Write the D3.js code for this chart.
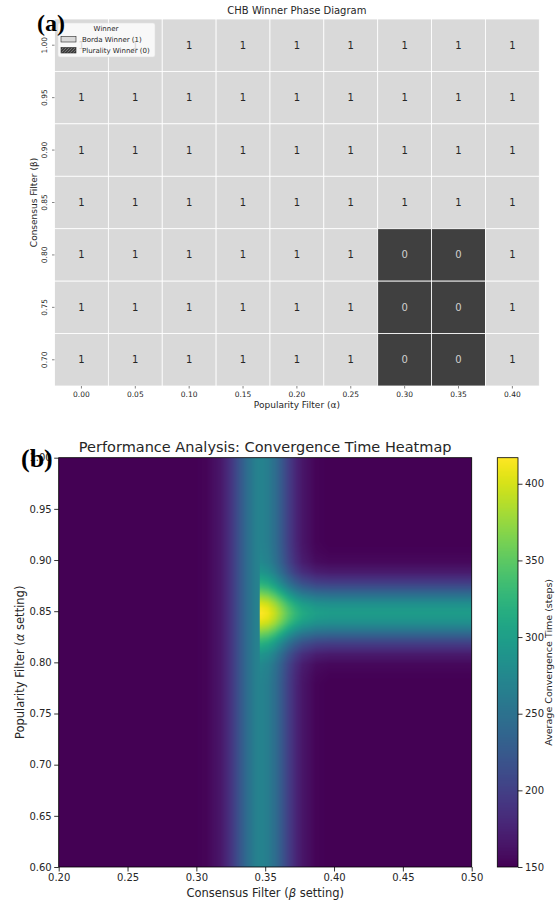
<!DOCTYPE html>
<meta charset="utf-8">
<head>
<style>
body{margin:0;background:#fff;}
svg text{font-family:"DejaVu Sans",sans-serif;fill:#262626;}
.panel-tag{font-family:"Liberation Serif",serif;font-weight:bold;fill:#000;}
</style>
<script src="https://cdnjs.cloudflare.com/ajax/libs/d3/7.8.5/d3.min.js"></script>
</head>
<body>
<div id="vis"></div>
<script>
// ---- (a) winner phase diagram ----
var popAlphas = ['0.00','0.05','0.10','0.15','0.20','0.25','0.30','0.35','0.40']
var consBetas = ['1.00','0.95','0.90','0.85','0.80','0.75','0.70']
var winner = [
	[1,1,1,1,1,1,1,1,1],
	[1,1,1,1,1,1,1,1,1],
	[1,1,1,1,1,1,1,1,1],
	[1,1,1,1,1,1,1,1,1],
	[1,1,1,1,1,1,0,0,1],
	[1,1,1,1,1,1,0,0,1],
	[1,1,1,1,1,1,0,0,1]]
var legendItems = ['Borda Winner (1)', 'Plurality Winner (0)']

// ---- (b) convergence time heatmap ----
var betaTicks = [0.20,0.25,0.30,0.35,0.40,0.45,0.50]
var alphaTicks = [0.60,0.65,0.70,0.75,0.80,0.85,0.90,0.95,1.00]
var cbTicks = [150,200,250,300,350,400]
var baseSteps = 150
var maxSteps = 417
// extra steps along consensus filter (vertical ridge)
var ridgeBeta  = [0.20,0.297,0.307,0.317,0.322,0.327,0.332,0.337,0.342,0.347,0.352,0.357,0.362,0.367,0.372,0.377,0.387,0.397,0.50]
var ridgeExtra = [0,   0,    3,    16,   30,   49,   73,   96,   113,  120,  113,  96,   73,   49,   30,   16,   3,    0,    0]
// extra steps along popularity filter (horizontal ridge, only from beta >= ridgeStart)
var ridgeAlpha  = [0.60,0.778,0.788,0.798,0.808,0.818,0.823,0.828,0.833,0.838,0.843,0.848,0.853,0.858,0.863,0.868,0.873,0.878,0.888,0.898,0.908,0.918,1.00]
var ridgeExtra2 = [0,   0,    2,    6,    20,   48,   67,   89,   111,  130,  142,  147,  142,  130,  111,  89,   67,   48,   20,   6,    2,    0,    0]
var ridgeStart = 0.346

var svg = d3.select('#vis').append('svg')
	.attr('width', 560)
	.attr('height', 905)

// ================= panel (a) =================
var A = {left: 54.5, top: 19, right: 539.3, bottom: 386}
var xA = d3.scaleBand().domain(popAlphas).range([A.left, A.right])
var yA = d3.scaleBand().domain(consBetas).range([A.top, A.bottom])

var cells = []
for (var i = 0; i < consBetas.length; i ++){
	for (var j = 0; j < popAlphas.length; j ++){
		cells.push({b: consBetas[i], a: popAlphas[j], v: winner[i][j]})
	}
}
var gA = svg.append('g')
gA.selectAll('rect.cell')
	.data(cells)
 .enter().append('rect')
	.attr('class', 'cell')
	.attr('x', function(d){ return xA(d.a) })
	.attr('y', function(d){ return yA(d.b) })
	.attr('width', xA.bandwidth())
	.attr('height', yA.bandwidth())
	.attr('fill', function(d){ return d.v ? '#d9d9d9' : '#404040' })
	.attr('stroke', '#fff')
	.attr('stroke-width', 0.8)
gA.selectAll('text.val')
	.data(cells)
 .enter().append('text')
	.attr('class', 'val')
	.attr('x', function(d){ return xA(d.a) + xA.bandwidth() / 2 })
	.attr('y', function(d){ return yA(d.b) + yA.bandwidth() / 2 + 3.5 })
	.attr('text-anchor', 'middle')
	.style('font-size', '10px')
	.style('fill', function(d){ return d.v ? '#262626' : '#d0d0d0' })
	.text(function(d){ return d.v })

var axA = gA.append('g')
	.attr('transform', 'translate(0,' + A.bottom + ')')
	.call(d3.axisBottom(xA).tickSize(2.5).tickPadding(3))
axA.select('.domain').remove()
axA.selectAll('line').attr('stroke', '#333').attr('stroke-width', 0.6)
axA.selectAll('text').style('font-size', '7.5px').style('font-family', 'DejaVu Sans').attr('fill', '#262626')

gA.selectAll('line.ytick')
	.data(consBetas)
 .enter().append('line')
	.attr('x1', A.left - 2.5).attr('x2', A.left)
	.attr('y1', function(d){ return yA(d) + yA.bandwidth() / 2 })
	.attr('y2', function(d){ return yA(d) + yA.bandwidth() / 2 })
	.attr('stroke', '#333').attr('stroke-width', 0.6)
gA.selectAll('text.ytick')
	.data(consBetas)
 .enter().append('text')
	.attr('class', 'ytick')
	.attr('transform', function(d){ return 'translate(47,' + (yA(d) + yA.bandwidth() / 2) + ') rotate(-90)' })
	.attr('text-anchor', 'middle')
	.style('font-size', '7.5px')
	.text(function(d){ return d })

gA.append('text')
	.attr('x', (A.left + A.right) / 2).attr('y', 14)
	.attr('text-anchor', 'middle')
	.style('font-size', '10px')
	.text('CHB Winner Phase Diagram')
gA.append('text')
	.attr('x', (A.left + A.right) / 2).attr('y', 408)
	.attr('text-anchor', 'middle')
	.style('font-size', '9px')
	.text('Popularity Filter (α)')
gA.append('text')
	.attr('transform', 'translate(37,' + (A.top + A.bottom) / 2 + ') rotate(-90)')
	.attr('text-anchor', 'middle')
	.style('font-size', '9px')
	.text('Consensus Filter (β)')

// legend
var defs = svg.append('defs')
var hatch = defs.append('pattern')
	.attr('id', 'hatch')
	.attr('patternUnits', 'userSpaceOnUse')
	.attr('width', 3).attr('height', 3)
hatch.append('rect').attr('width', 3).attr('height', 3).attr('fill', '#404040')
hatch.append('path').attr('d', 'M-1,1 l2,-2 M0,3 l3,-3 M2,4 l2,-2')
	.attr('stroke', '#9a9a9a').attr('stroke-width', 0.6)

var leg = gA.append('g')
leg.append('rect')
	.attr('x', 58).attr('y', 23).attr('width', 97).attr('height', 34)
	.attr('rx', 2)
	.attr('fill', '#fff').attr('fill-opacity', 0.8)
	.attr('stroke', '#e0e0e0').attr('stroke-width', 0.6)
leg.append('text')
	.attr('x', 106).attr('y', 31)
	.attr('text-anchor', 'middle')
	.style('font-size', '7px')
	.text('Winner')
leg.selectAll('rect.patch')
	.data(legendItems)
 .enter().append('rect')
	.attr('class', 'patch')
	.attr('x', 61).attr('y', function(d, i){ return 36.5 + i * 11 })
	.attr('width', 15).attr('height', 5.5)
	.attr('fill', function(d, i){ return i ? 'url(#hatch)' : '#d9d9d9' })
	.attr('stroke', '#262626').attr('stroke-width', 0.6)
leg.selectAll('text.item')
	.data(legendItems)
 .enter().append('text')
	.attr('class', 'item')
	.attr('x', 82).attr('y', function(d, i){ return 41.8 + i * 11 })
	.style('font-size', '7px')
	.text(function(d){ return d })

svg.append('text').attr('class', 'panel-tag')
	.attr('x', 37).attr('y', 31)
	.style('font-size', '24px')
	.text('(a)')

// ================= panel (b) =================
var B = {left: 58.7, top: 457.7, right: 471.7, bottom: 867}
var xB = d3.scaleLinear().domain([0.20, 0.50]).range([B.left, B.right])
var yB = d3.scaleLinear().domain([0.60, 1.00]).range([B.bottom, B.top])
var color = d3.scaleSequential(d3.interpolateViridis).domain([baseSteps, maxSteps])
var ridgeB = d3.scaleLinear().domain(ridgeBeta).range(ridgeExtra).clamp(true)
var ridgeA = d3.scaleLinear().domain(ridgeAlpha).range(ridgeExtra2).clamp(true)

var steps = function(beta, alpha){
	return baseSteps + ridgeB(beta) + (beta >= ridgeStart ? ridgeA(alpha) : 0)
}

var pw = Math.round(B.right - B.left), ph = Math.round(B.bottom - B.top)
var cnv = document.createElement('canvas')
cnv.width = pw * 2; cnv.height = ph * 2
var ctx = cnv.getContext('2d')
var img = ctx.createImageData(cnv.width, cnv.height)
for (var py = 0; py < cnv.height; py ++){
	var alpha = yB.invert(B.top + (py + 0.5) / 2 * (B.bottom - B.top) / ph)
	for (var px = 0; px < cnv.width; px ++){
		var beta = xB.invert(B.left + (px + 0.5) / 2 * (B.right - B.left) / pw)
		var c = d3.rgb(color(steps(beta, alpha)))
		var k = (py * cnv.width + px) * 4
		img.data[k] = c.r; img.data[k+1] = c.g; img.data[k+2] = c.b; img.data[k+3] = 255
	}
}
ctx.putImageData(img, 0, 0)

var gB = svg.append('g')
gB.append('image')
	.attr('x', B.left).attr('y', B.top)
	.attr('width', B.right - B.left).attr('height', B.bottom - B.top)
	.attr('preserveAspectRatio', 'none')
	.attr('href', cnv.toDataURL())
gB.append('rect')
	.attr('x', B.left).attr('y', B.top)
	.attr('width', B.right - B.left).attr('height', B.bottom - B.top)
	.attr('fill', 'none').attr('stroke', '#000').attr('stroke-width', 0.8)

var axBx = gB.append('g')
	.attr('transform', 'translate(0,' + B.bottom + ')')
	.call(d3.axisBottom(xB).tickValues(betaTicks).tickFormat(d3.format('.2f')).tickSize(4.5).tickPadding(2.5).tickSizeOuter(0))
var axBy = gB.append('g')
	.attr('transform', 'translate(' + B.left + ',0)')
	.call(d3.axisLeft(yB).tickValues(alphaTicks).tickFormat(d3.format('.2f')).tickSize(4.5).tickPadding(2.5).tickSizeOuter(0))
;[axBx, axBy].forEach(function(g){
	g.select('.domain').remove()
	g.selectAll('line').attr('stroke', '#000').attr('stroke-width', 0.8)
	g.selectAll('text').style('font-size', '10px').style('font-family', 'DejaVu Sans').attr('fill', '#262626')
})

gB.append('text')
	.attr('x', (B.left + B.right) / 2).attr('y', 452)
	.attr('text-anchor', 'middle')
	.style('font-size', '14.5px')
	.text('Performance Analysis: Convergence Time Heatmap')
var xl = gB.append('text')
	.attr('x', (B.left + B.right) / 2).attr('y', 897)
	.attr('text-anchor', 'middle')
	.style('font-size', '11.5px')
xl.append('tspan').text('Consensus Filter (')
xl.append('tspan').style('font-style', 'italic').text('β')
xl.append('tspan').text(' setting)')
var yl = gB.append('text')
	.attr('transform', 'translate(24,' + (B.top + B.bottom) / 2 + ') rotate(-90)')
	.attr('text-anchor', 'middle')
	.style('font-size', '11.5px')
yl.append('tspan').text('Popularity Filter (')
yl.append('tspan').style('font-style', 'italic').text('α')
yl.append('tspan').text(' setting)')

// colorbar
var CB = {left: 497.3, right: 518, top: B.top, bottom: B.bottom}
var yCB = d3.scaleLinear().domain([baseSteps, maxSteps]).range([CB.bottom, CB.top])
var cbc = document.createElement('canvas')
cbc.width = 1; cbc.height = Math.round(CB.bottom - CB.top)
var cctx = cbc.getContext('2d')
for (var r = 0; r < cbc.height; r ++){
	cctx.fillStyle = color(yCB.invert(CB.top + r + 0.5))
	cctx.fillRect(0, r, 1, 1)
}
gB.append('image')
	.attr('x', CB.left).attr('y', CB.top)
	.attr('width', CB.right - CB.left).attr('height', CB.bottom - CB.top)
	.attr('preserveAspectRatio', 'none')
	.attr('href', cbc.toDataURL())
gB.append('rect')
	.attr('x', CB.left).attr('y', CB.top)
	.attr('width', CB.right - CB.left).attr('height', CB.bottom - CB.top)
	.attr('fill', 'none').attr('stroke', '#000').attr('stroke-width', 0.8)
var axCB = gB.append('g')
	.attr('transform', 'translate(' + CB.right + ',0)')
	.call(d3.axisRight(yCB).tickValues(cbTicks).tickSize(4.5).tickPadding(2.5).tickSizeOuter(0))
axCB.select('.domain').remove()
axCB.selectAll('line').attr('stroke', '#000').attr('stroke-width', 0.8)
axCB.selectAll('text').style('font-size', '10px').style('font-family', 'DejaVu Sans').attr('fill', '#262626')
gB.append('text')
	.attr('transform', 'translate(552,' + (CB.top + CB.bottom) / 2 + ') rotate(-90)')
	.attr('text-anchor', 'middle')
	.style('font-size', '9.5px')
	.text('Average Convergence Time (steps)')

svg.append('text').attr('class', 'panel-tag')
	.attr('x', 21).attr('y', 467)
	.style('font-size', '26px')
	.text('(b)')
</script>
</body>
